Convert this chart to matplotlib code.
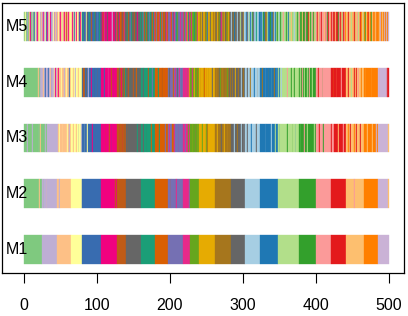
import matplotlib
matplotlib.use('Agg')
import matplotlib.pyplot as plt

plt.rcParams['font.family'] = ['Liberation Sans', 'DejaVu Sans']

# ---- data -------------------------------------------------------------
rows = ['M1', 'M2', 'M3', 'M4', 'M5']
cluster_ids = list('ABCDEFGHIJKLMNOPQRSTUVWXY')
cluster_colors = ['#7FC97F', '#BEAED4', '#FDC086', '#FFFF99', '#386CB0', '#F0027F',
                  '#BF5B17', '#666666', '#1B9E77', '#D95F02', '#7570B3', '#E7298A',
                  '#66A61E', '#E6AB02', '#A6761D', '#666666', '#A6CEE3', '#1F78B4',
                  '#B2DF8A', '#33A02C', '#FB9A99', '#E31A1C', '#FDBF6F', '#FF7F00',
                  '#CAB2D6']
cluster_bounds = [0, 25, 45, 65, 80, 105, 128, 140, 160, 180, 197, 218, 228, 240,
                  262, 283, 303, 323, 348, 376, 400, 421, 441, 466, 485, 500]

# (start, length, label) stripes that differ from M1
m2_noise = [(21, 1, 'C'), (27, 1, 'A'), (31, 1, 'C'), (48, 1, 'B'), (79, 1, 'B'),
            (125, 1, 'G'), (201, 1, 'J'), (208, 1, 'L'), (226, 1, 'K'),
            (452, 1, 'U'), (463, 1, 'W'), (499, 1, 'W')]

m3_noise = [(4, 1, 'B'), (11, 1, 'B'), (20, 1, 'B'), (22, 1, 'C'), (25, 4, 'A'),
            (30, 2, 'A'), (45, 1, 'B'), (48, 1, 'D'), (53, 1, 'D'), (59, 1, 'D'),
            (62, 1, 'B'), (67, 1, 'C'), (72, 1, 'C'), (75, 1, 'E'), (78, 1, 'B'),
            (83, 1, 'D'), (87, 1, 'D'), (93, 1, 'F'), (112, 1, 'G'), (116, 2, 'G'),
            (120, 1, 'E'), (131, 1, 'F'), (135, 1, 'F'), (138, 1, 'H'), (142, 1, 'G'),
            (155, 1, 'I'), (163, 1, 'H'), (168, 1, 'H'), (174, 1, 'J'), (185, 1, 'I'),
            (193, 1, 'K'), (199, 1, 'L'), (203, 2, 'J'), (206, 1, 'L'), (212, 1, 'L'),
            (221, 1, 'K'), (225, 1, 'M'), (231, 1, 'N'), (235, 1, 'L'), (238, 1, 'N'),
            (244, 1, 'M'), (249, 1, 'M'), (251, 1, 'O'), (265, 1, 'N'), (270, 1, 'P'),
            (274, 1, 'N'), (279, 1, 'N'), (288, 1, 'Q'), (292, 1, 'O'), (297, 1, 'Q'),
            (301, 1, 'Q'), (306, 1, 'P'), (311, 1, 'R'), (318, 1, 'P'), (331, 1, 'Q'),
            (338, 1, 'Q'), (344, 1, 'S'), (350, 1, 'R'), (360, 1, 'T'), (368, 1, 'T'),
            (372, 1, 'R'), (379, 1, 'S'), (384, 1, 'U'), (388, 1, 'S'), (397, 1, 'S'),
            (404, 1, 'V'), (410, 1, 'T'), (416, 1, 'W'), (422, 2, 'U'), (430, 1, 'W'),
            (437, 1, 'U'), (444, 1, 'X'), (447, 1, 'V'), (452, 1, 'X'), (455, 1, 'V'),
            (460, 1, 'V'), (470, 1, 'W'), (477, 1, 'W'), (482, 1, 'Y'), (499, 1, 'W')]

m4_noise = [(19, 1, 'C'), (22, 1, 'B'), (24, 1, 'B'), (26, 1, 'C'), (29, 1, 'E'),
            (33, 1, 'E'), (36, 1, 'C'), (38, 1, 'K'), (41, 1, 'D'), (43, 1, 'F'),
            (47, 1, 'F'), (51, 1, 'D'), (55, 1, 'B'), (58, 1, 'D'), (62, 1, 'E'),
            (67, 1, 'C'), (70, 1, 'B'), (74, 1, 'C'), (77, 1, 'D'), (81, 2, 'G'),
            (85, 1, 'H'), (88, 1, 'B'), (92, 1, 'F'), (97, 1, 'H'), (101, 1, 'G'),
            (110, 1, 'E'), (115, 1, 'L'), (119, 1, 'G'), (123, 1, 'H'), (130, 1, 'H'),
            (133, 1, 'F'), (136, 1, 'H'), (139, 1, 'I'), (143, 1, 'G'), (146, 1, 'I'),
            (150, 1, 'G'), (154, 1, 'J'), (157, 1, 'I'), (163, 1, 'H'), (170, 1, 'G'),
            (176, 1, 'K'), (184, 1, 'I'), (189, 1, 'G'), (194, 1, 'L'), (199, 1, 'H'),
            (201, 1, 'L'), (204, 1, 'J'), (207, 1, 'L'), (210, 1, 'H'), (213, 1, 'L'),
            (216, 1, 'I'), (220, 1, 'K'), (224, 1, 'M'), (226, 1, 'N'), (230, 1, 'L'),
            (233, 1, 'N'), (237, 1, 'O'), (242, 1, 'O'), (246, 1, 'M'), (247, 1, 'J'),
            (250, 1, 'J'), (253, 1, 'O'), (258, 1, 'P'), (264, 1, 'N'), (267, 1, 'P'),
            (269, 1, 'M'), (272, 1, 'N'), (275, 1, 'P'), (278, 1, 'M'), (281, 1, 'P'),
            (285, 1, 'O'), (289, 1, 'N'), (293, 1, 'O'), (297, 1, 'Q'), (300, 1, 'O'),
            (306, 1, 'P'), (310, 1, 'O'), (315, 1, 'R'), (320, 1, 'O'), (326, 1, 'O'),
            (331, 1, 'Q'), (335, 1, 'O'), (339, 1, 'S'), (343, 1, 'O'), (346, 1, 'Q'),
            (349, 1, 'R'), (352, 1, 'Q'), (360, 1, 'U'), (366, 1, 'T'), (370, 1, 'T'),
            (378, 1, 'S'), (381, 1, 'U'), (384, 1, 'S'), (388, 1, 'S'), (391, 1, 'U'),
            (395, 1, 'S'), (403, 1, 'V'), (409, 1, 'T'), (424, 1, 'N'), (428, 1, 'W'),
            (434, 1, 'U'), (444, 1, 'V'), (448, 1, 'S'), (452, 1, 'V'), (455, 1, 'V'),
            (458, 1, 'U'), (462, 1, 'X'), (468, 1, 'W'), (476, 1, 'W'), (487, 1, 'U'),
            (497, 1, 'V'), (499, 1, 'V')]

# M5: labels written out unit by unit, one string per M1 cluster region
m5_chunks = ['ACDABEACDFABCAEDABFCADBAC', 'BFCBDEBFBCDFBEBDBFCB', 'CFDCBFCDECFCDGCBFCDC',
             'DFCDEDBFDCDEFDG', 'EIEFEDEHEIEEGEFEIEHEEBEIE', 'FHFGFLFEFHFGFFLFBFGFHFC',
             'GHFGJGHFGLGH', 'HIHGHKHIHJHGHIHFHKHI', 'IHIKIGIJIHIKIIHIJILI',
             'JKJHJLJIJKJGJHJLJ', 'KHKLKJKHKLKIKMKHKLKJK', 'LMLKLNLILM', 'MLMNMIMJMLMN',
             'NOMNHNPNOMNENONPNMNONH', 'OPONOMOPLOQONOPOMONOP', 'PQPOPRPNPQPOPSPQPOPQ',
             'QRQPQSQRQTQPQRQIQSQR', 'RSRQRTROROSRQRTRSRORQRSRT',
             'SQSTSRSUSQSTSSRSUSWSTSQSUSTS', 'TUTSTWTOTUTSTVTWTSTUTCTS',
             'UVUWUTUVUSUWUVUTUVUWU', 'VUVSVWVUVTVUVWVSVUVX', 'WSWVWUWSWXWVWTWUWSWVWXWSW',
             'XTXWXVXWXTXWXUXWXYX', 'XWXYXWXXYWXYXYY']

# ---- build label sequences -------------------------------------------
color_of = dict(zip(cluster_ids, cluster_colors))

m1 = []
for cid, a, b in zip(cluster_ids, cluster_bounds[:-1], cluster_bounds[1:]):
    m1 += [cid] * (b - a)


def with_noise(base, noise):
    lab = list(base)
    for start, length, cid in noise:
        for k in range(start, min(start + length, len(lab))):
            lab[k] = cid
    return lab


m5 = []
for chunk, a, b in zip(m5_chunks, cluster_bounds[:-1], cluster_bounds[1:]):
    m5 += list(chunk[:b - a])

sequences = [m1, with_noise(m1, m2_noise), with_noise(m1, m3_noise),
             with_noise(m1, m4_noise), m5]


def runs(lab):
    out = []
    start = 0
    for k in range(1, len(lab) + 1):
        if k == len(lab) or lab[k] != lab[start]:
            out.append((start, k - start, lab[start]))
            start = k
    return out


# ---- draw ----------------------------------------------------------------
fig = plt.figure(figsize=(4.08, 3.16), dpi=100)
ax = fig.add_axes([1.7 / 408, 42.7 / 316, 402.3 / 408, 270.6 / 316])

for r, (name, lab) in enumerate(zip(rows, sequences)):
    y = r + 1
    rr = runs(lab)
    cols = [color_of[c] for _, _, c in rr]
    ax.barh([y] * len(rr), [w for _, w, _ in rr], left=[s for s, _, _ in rr],
            height=0.52, color=cols, edgecolor=cols, linewidth=0.25, zorder=2)
    ax.text(-10, y, name, ha='center', va='center', fontsize=11.5, zorder=3)

ax.set_xlim(-30.4, 520.4)
ax.set_ylim(0.57, 5.43)
ax.set_yticks([])
ax.set_xticks([0, 100, 200, 300, 400, 500])
ax.tick_params(axis='x', length=7.5, width=0.8, pad=10, labelsize=11.5)
for sp in ax.spines.values():
    sp.set_linewidth(0.9)

fig.savefig('out.png', dpi=100)
